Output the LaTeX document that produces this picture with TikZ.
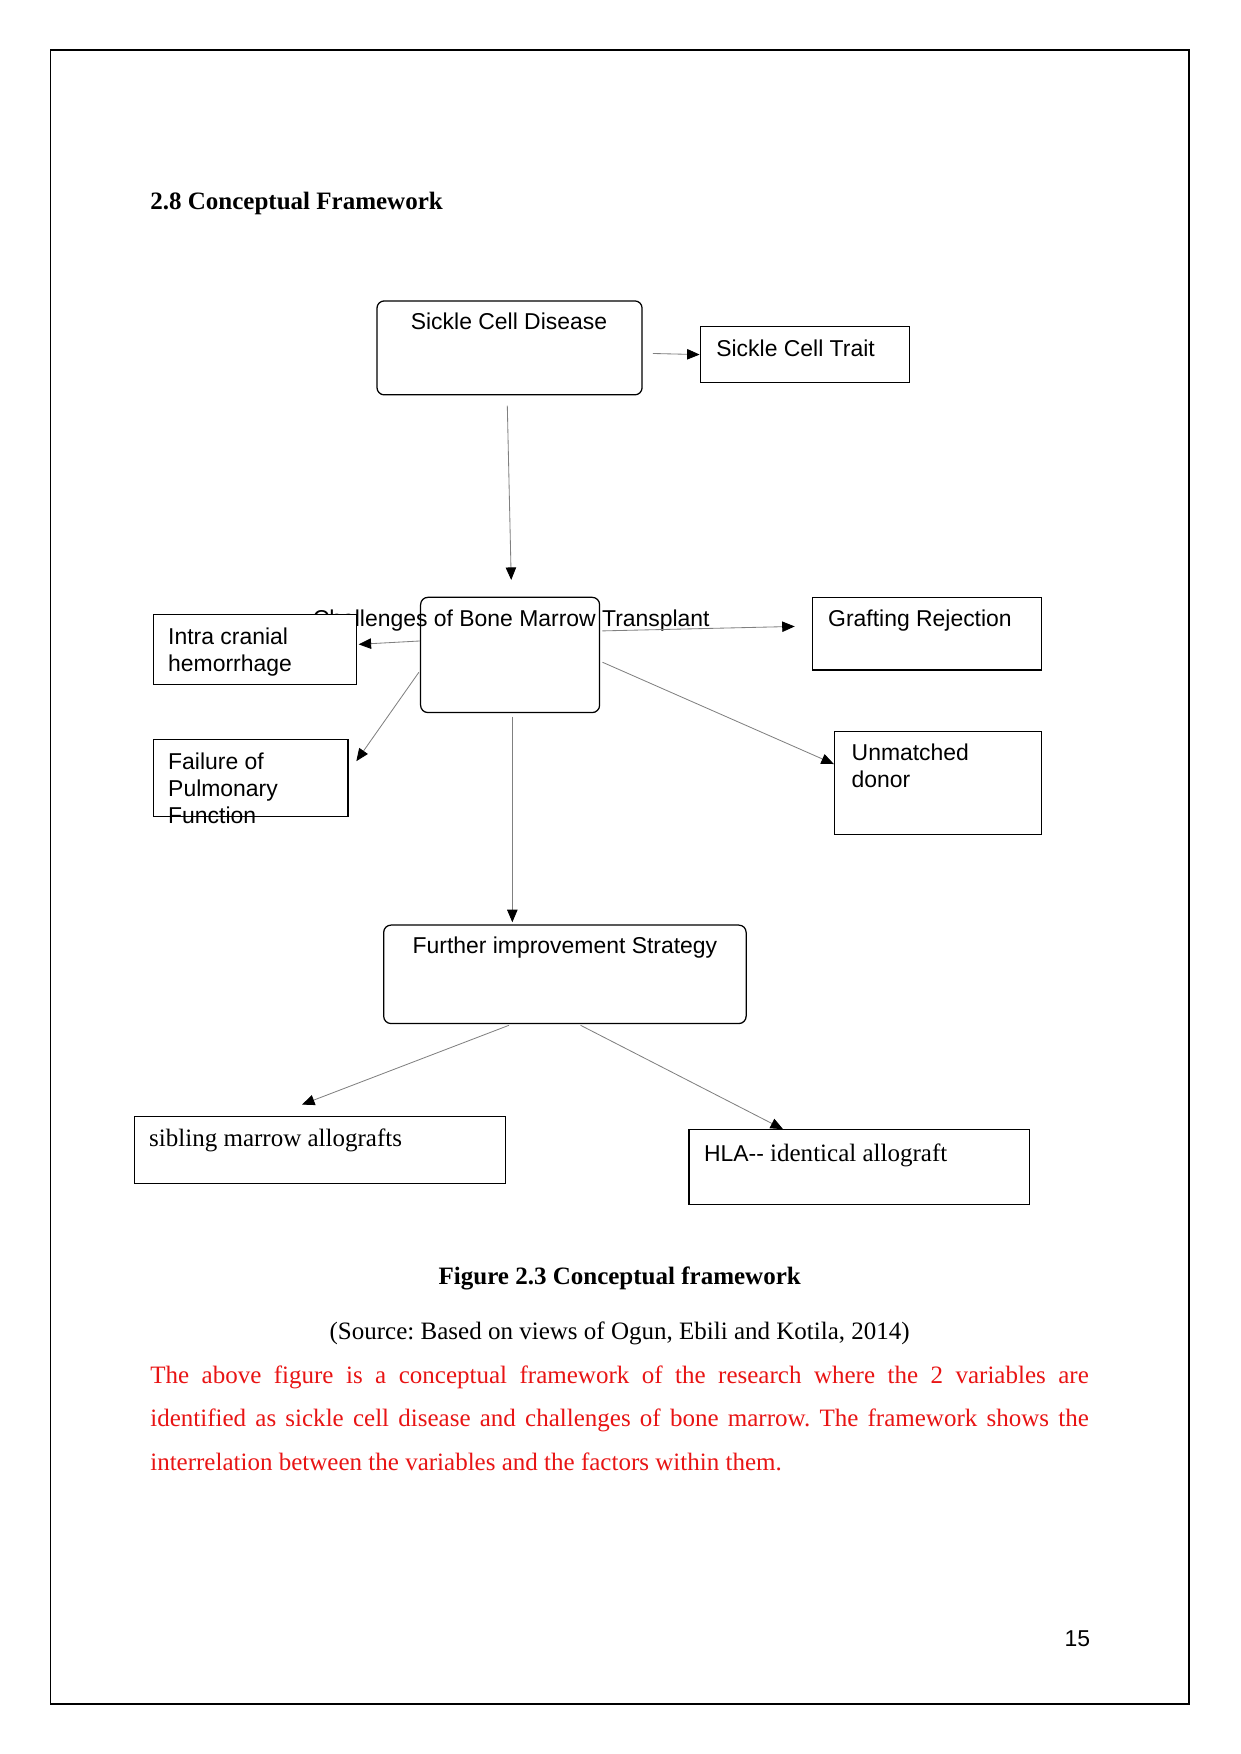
\documentclass[tikz,border=0pt]{standalone}
\usepackage{fontspec}
\setmainfont{Liberation Serif}
\newfontfamily\arial{Liberation Sans}
\usetikzlibrary{arrows.meta,fit,calc}
\definecolor{parared}{RGB}{232,20,20}
\frenchspacing
\begin{document}
\begin{tikzpicture}[x=0.5366pt,y=-0.5366pt,
  box/.style={draw,line width=0.6pt,inner sep=0pt},
  rbox/.style={box,rounded corners=3.5pt},
  lab/.style={font=\arial\fontsize{11}{12.9}\selectfont,inner sep=0pt,align=left},
  slab/.style={font=\fontsize{12}{14}\selectfont,inner sep=0pt},
  conn/.style={draw=black!50,line width=0.4pt,-{Triangle[length=6pt,width=5pt,color=black]}}
]
\useasboundingbox (0,0) rectangle (1109,1568);
\draw[line width=0.8pt] (45,45) rectangle (1063,1523);

\node[slab,anchor=base west,font=\bfseries\fontsize{12}{14}\selectfont] (title) at (134,187.5) {2.8 Conceptual Framework};

% boxes
\node[rbox,fit={(337,269) (574,353)}] (scd) {};
\node[lab,anchor=base] (scdt) at (455,294.5) {Sickle Cell Disease};
\node[box,fit={(626,292) (813,342)}] (sct) {};
\node[lab,anchor=base west] (sctt) at (640,318.5) {Sickle Cell Trait};

\node[rbox,fit={(376,534) (536,637)}] (cbmt) {};
\node[lab,anchor=base] (cbmtt) at (457,560.5) {Challenges of Bone Marrow Transplant};

\node[box,fill=white,fit={(137,549) (319,612)}] (ich) {};
\node[lab,anchor=north west] (icht) at (150,561) {Intra cranial\\hemorrhage};

\node[box,fit={(137,661) (311,730)}] (fpf) {};
\node[lab,anchor=north west] (fpft) at (150,673) {Failure of\\Pulmonary\\Function};

\node[box,fit={(726,534) (931,599)}] (gr) {};
\node[lab,anchor=base west] (grt) at (740,560.5) {Grafting Rejection};

\node[box,fit={(746,654) (931,746)}] (ud) {};
\node[lab,anchor=north west] (udt) at (761,665) {Unmatched\\donor};

\node[rbox,fit={(343,827) (667,915)}] (fis) {};
\node[lab,anchor=base] (fist) at (505,852.5) {Further improvement Strategy};

\node[box,fit={(120,998) (452,1058)}] (sib) {};
\node[slab,anchor=base west] (sibt) at (133,1025) {sibling marrow allografts};

\node[box,fit={(616,1010) (920,1077)}] (hla) {};
\node[slab,anchor=base west] (hlat) at (629,1038) {{\arial\fontsize{11}{13}\selectfont HLA--} identical allograft};

% connectors
\draw[conn] ($(scd.east)+(9,5)$) -- (sct.west);
\draw[conn] ($(scd.south)+(-2,9)$) -- ($(cbmt.north)+(1,-15)$);
\draw[conn] ($(cbmt.west)+(0,-12.5)$) -- ($(ich.east)+(1,-4.5)$);
\draw[conn] ($(cbmt.west)+(-1,15.5)$) -- ($(fpf.north east)+(7,20)$);
\draw[conn] ($(cbmt.east)+(2,-21.5)$) -- ($(gr.west)+(-15,-6.5)$);
\draw[conn] ($(cbmt.east)+(2,6.5)$) -- ($(ud.west)+(0,-17)$);
\draw[conn] ($(cbmt.south)+(2,3)$) -- ($(fis.north)+(-47,-2)$);
\draw[conn] ($(fis.south)+(-50,1)$) -- ($(sib.north)+(-16,-10)$);
\draw[conn] ($(fis.south)+(14,1)$) -- ($(hla.north)+(-68,0)$);

% captions
\node[slab,anchor=base,font=\bfseries\fontsize{12}{14}\selectfont] (cap) at (554,1148) {Figure 2.3 Conceptual framework};
\node[slab,anchor=base] (src) at (554,1197) {(Source: Based on views of Ogun, Ebili and Kotila, 2014)};
\node[anchor=north west,inner sep=0pt,text width=450.2pt,align=justify,text=parared,
      font=\fontsize{12}{20.9}\selectfont] (para) at (134,1220.5)
 {The above figure is a conceptual framework of the research where the 2 variables are\linebreak identified as sickle cell disease and challenges of bone marrow. The framework shows the\linebreak interrelation between the variables and the factors within them.};

\node[lab,anchor=base] (pg) at (963,1472) {15};
\end{tikzpicture}
\end{document}
